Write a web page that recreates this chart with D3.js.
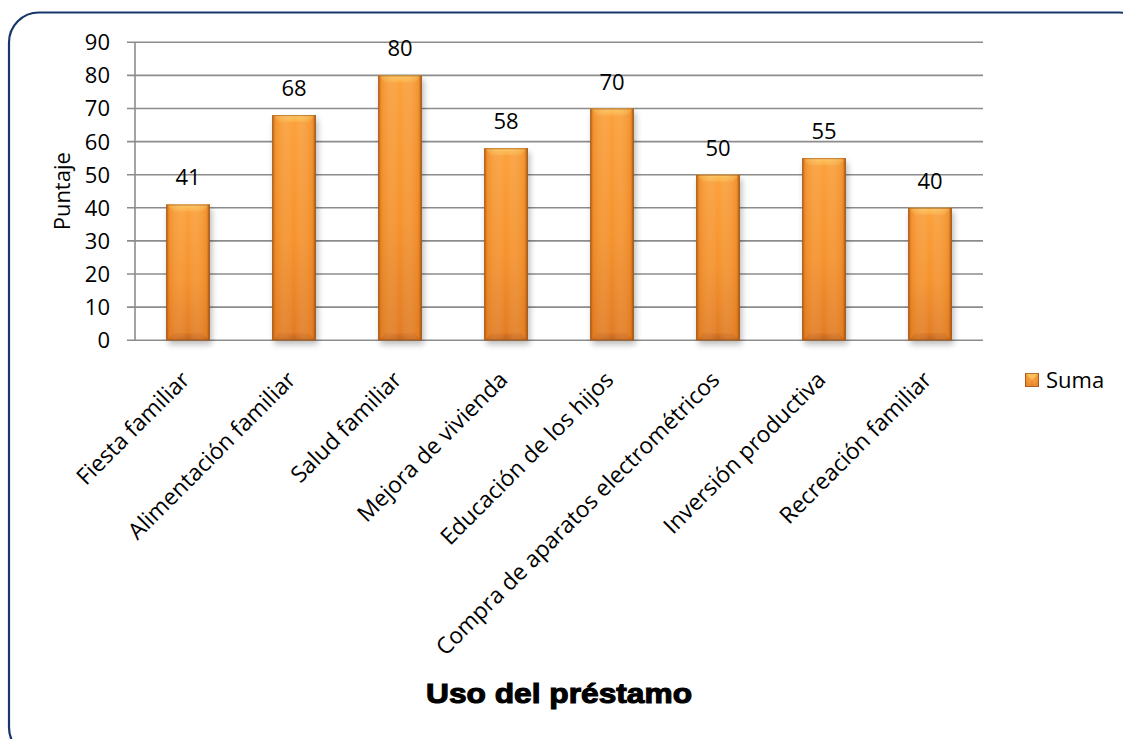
<!DOCTYPE html>
<html>
<head>
<meta charset="utf-8">
<script src="https://cdn.jsdelivr.net/npm/d3@7"></script>
<style>
  html, body { margin: 0; padding: 0; background: #fff; }
  svg { display: block; }
  text { font-family: "Open Sans", sans-serif; fill: #000; }
</style>
</head>
<body>
<svg id="chart" width="1123" height="739"></svg>
<script>
// Uso del préstamo — puntaje por categoría
const categories = [
  "Fiesta familiar",
  "Alimentación familiar",
  "Salud familiar",
  "Mejora de vivienda",
  "Educación de los hijos",
  "Compra de aparatos electrométricos",
  "Inversión productiva",
  "Recreación familiar"
];
const values = [41, 68, 80, 58, 70, 50, 55, 40];
const yTicks = [0, 10, 20, 30, 40, 50, 60, 70, 80, 90];
const seriesName = "Suma";
const xTitle = "Uso del préstamo";
const yTitle = "Puntaje";

const svg = d3.select("#chart");
const defs = svg.append("defs");
const fs = 22;

// Frame with rounded corners
svg.append("rect")
  .attr("x", 9).attr("y", 12.5)
  .attr("width", 1140).attr("height", 745)
  .attr("rx", 30).attr("ry", 30)
  .attr("fill", "none")
  .attr("stroke", "#17376b")
  .attr("stroke-width", 2.2);

const plot = { left: 135, right: 983, top: 42.3, bottom: 340.2 };

const x = d3.scaleBand()
  .domain(categories)
  .range([plot.left, plot.right])
  .paddingInner(0.59)
  .paddingOuter(0.295);

const y = d3.scaleLinear()
  .domain([0, 90])
  .range([plot.bottom, plot.top]);

// Gradients for the bevelled bars
const body = defs.append("linearGradient").attr("id", "barBody")
  .attr("x1", 0).attr("y1", 0).attr("x2", 0).attr("y2", 1);
body.append("stop").attr("offset", "0%").attr("stop-color", "#fba03a");
body.append("stop").attr("offset", "55%").attr("stop-color", "#f5922c");
body.append("stop").attr("offset", "100%").attr("stop-color", "#e07a22");

const side = defs.append("linearGradient").attr("id", "barSide")
  .attr("x1", 0).attr("y1", 0).attr("x2", 1).attr("y2", 0);
side.append("stop").attr("offset", "0%").attr("stop-color", "#a85617").attr("stop-opacity", 0.85);
side.append("stop").attr("offset", "8%").attr("stop-color", "#e5801f").attr("stop-opacity", 0.35);
side.append("stop").attr("offset", "50%").attr("stop-color", "#ffffff").attr("stop-opacity", 0.0);
side.append("stop").attr("offset", "92%").attr("stop-color", "#e5801f").attr("stop-opacity", 0.35);
side.append("stop").attr("offset", "100%").attr("stop-color", "#8f4a12").attr("stop-opacity", 0.9);

const topBevel = defs.append("linearGradient").attr("id", "barTop")
  .attr("x1", 0).attr("y1", 0).attr("x2", 0).attr("y2", 1);
topBevel.append("stop").attr("offset", "0%").attr("stop-color", "#fdc65e");
topBevel.append("stop").attr("offset", "100%").attr("stop-color", "#fbab42");

const botBevel = defs.append("linearGradient").attr("id", "barBot")
  .attr("x1", 0).attr("y1", 0).attr("x2", 0).attr("y2", 1);
botBevel.append("stop").attr("offset", "0%").attr("stop-color", "#d9731e");
botBevel.append("stop").attr("offset", "100%").attr("stop-color", "#c2631a");

const shadow = defs.append("filter").attr("id", "shadow")
  .attr("x", "-30%").attr("y", "-30%").attr("width", "160%").attr("height", "160%");
shadow.append("feGaussianBlur").attr("stdDeviation", 3);

// Grid lines and tick marks
const grid = svg.append("g");
grid.selectAll("line")
  .data(yTicks)
  .join("line")
  .attr("x1", plot.left - 8)
  .attr("x2", plot.right)
  .attr("y1", d => y(d))
  .attr("y2", d => y(d))
  .attr("stroke", "#8c8c8c")
  .attr("stroke-width", 1.6);

grid.append("line")
  .attr("x1", plot.left).attr("x2", plot.left)
  .attr("y1", y(90)).attr("y2", y(0))
  .attr("stroke", "#8c8c8c")
  .attr("stroke-width", 1.6);

// Y tick labels
svg.append("g").selectAll("text")
  .data(yTicks)
  .join("text")
  .attr("x", plot.left - 25)
  .attr("y", d => y(d))
  .attr("dy", "0.36em")
  .attr("text-anchor", "end")
  .attr("font-size", fs)
  .text(d => d);

// Bars
const bw = x.bandwidth();
const bars = svg.append("g").selectAll("g")
  .data(categories.map((c, i) => ({ c, v: values[i] })))
  .join("g")
  .attr("transform", d => `translate(${x(d.c)},0)`);

bars.append("rect")
  .attr("x", 2).attr("y", d => y(d.v) + 4)
  .attr("width", bw).attr("height", d => y(0) - y(d.v))
  .attr("fill", "#000").attr("opacity", 0.28)
  .attr("filter", "url(#shadow)");

bars.append("rect")
  .attr("x", 0).attr("y", d => y(d.v))
  .attr("width", bw).attr("height", d => y(0) - y(d.v))
  .attr("fill", "url(#barBody)");

const bev = 7;
bars.append("path")
  .attr("d", d => {
    const t = y(d.v);
    return `M0,${t}L${bw},${t}L${bw - bev},${t + bev}L${bev},${t + bev}Z`;
  })
  .attr("fill", "url(#barTop)");

bars.append("path")
  .attr("d", d => {
    const b = y(0);
    return `M0,${b}L${bw},${b}L${bw - bev},${b - bev}L${bev},${b - bev}Z`;
  })
  .attr("fill", "url(#barBot)");

bars.append("rect")
  .attr("x", 0).attr("y", d => y(d.v))
  .attr("width", bw).attr("height", d => y(0) - y(d.v))
  .attr("fill", "url(#barSide)");

bars.append("rect")
  .attr("x", 0.5).attr("y", d => y(d.v) + 0.5)
  .attr("width", bw - 1).attr("height", d => y(0) - y(d.v) - 1)
  .attr("fill", "none")
  .attr("stroke", "#9a5418")
  .attr("stroke-opacity", 0.6)
  .attr("stroke-width", 1);

// Value labels
bars.append("text")
  .attr("x", bw / 2)
  .attr("y", d => y(d.v) - 19)
  .attr("text-anchor", "middle")
  .attr("font-size", fs)
  .text(d => d.v);

// Category labels, rotated
svg.append("g").selectAll("text")
  .data(categories)
  .join("text")
  .attr("text-anchor", "end")
  .attr("font-size", 22.8)
  .attr("transform", d => `translate(${x(d) + bw / 2 + 3},${plot.bottom + 41}) rotate(-45)`)
  .text(d => d);

// Axis titles
svg.append("text")
  .attr("transform", `translate(70,${(plot.top + plot.bottom) / 2}) rotate(-90)`)
  .attr("text-anchor", "middle")
  .attr("font-size", fs)
  .text(yTitle);

svg.append("text")
  .attr("x", 559)
  .attr("y", 703)
  .attr("text-anchor", "middle")
  .attr("font-weight", "bold")
  .attr("font-size", 28)
  .attr("stroke", "#000")
  .attr("stroke-width", 1.1)
  .attr("textLength", 266)
  .attr("lengthAdjust", "spacingAndGlyphs")
  .style("font-family", "'Liberation Sans', Arial, sans-serif")
  .text(xTitle);

// Legend
const lg = svg.append("g").attr("transform", "translate(1025,373)");
const ls = 14;
lg.append("rect").attr("width", ls).attr("height", ls).attr("fill", "url(#barBody)");
lg.append("path")
  .attr("d", `M0,0L${ls},0L${ls / 2},${ls / 2}Z`)
  .attr("fill", "#fdbf55");
lg.append("rect").attr("width", ls).attr("height", ls).attr("fill", "url(#barSide)");
lg.append("rect").attr("x", 0.5).attr("y", 0.5).attr("width", ls - 1).attr("height", ls - 1)
  .attr("fill", "none").attr("stroke", "#9a5418").attr("stroke-opacity", 0.7);
lg.append("text")
  .attr("x", 21).attr("y", ls / 2)
  .attr("dy", "0.36em")
  .attr("font-size", fs)
  .text(seriesName);
</script>
</body>
</html>
